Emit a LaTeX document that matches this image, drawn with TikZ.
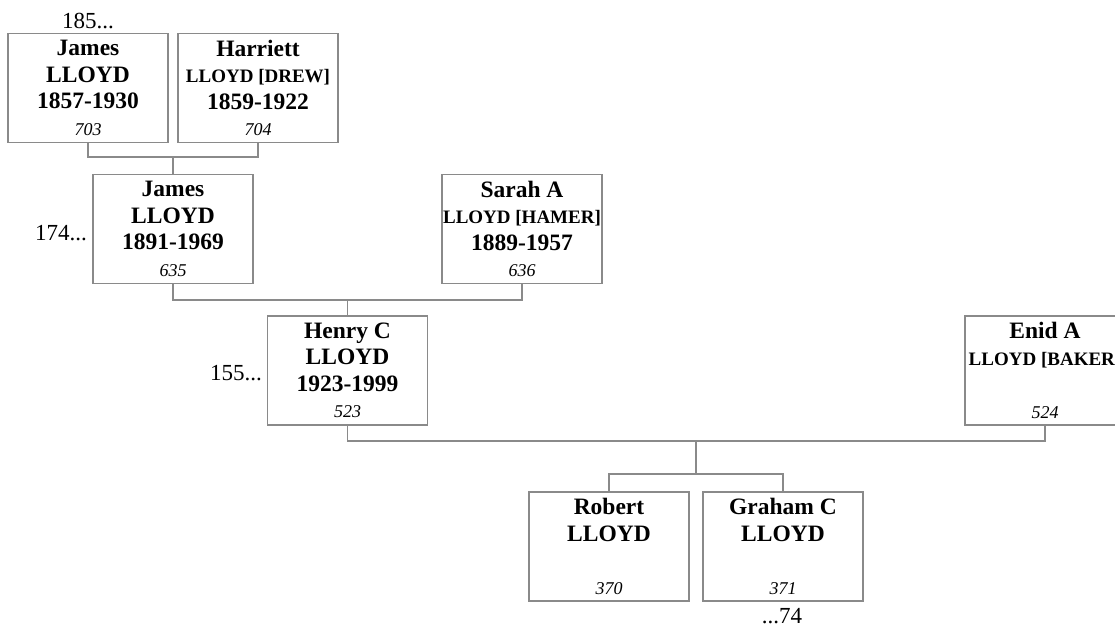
\documentclass[tikz,border=0pt]{standalone}
\usepackage{fontspec}
\setmainfont{Liberation Serif}
\usepackage{xcolor}

\definecolor{boxgray}{RGB}{138,138,138}
\newcommand{\indiv}[4]{%
	#1\\ #2\\ #3\mbox{}\\ {\fontsize{18}{26.5}\selectfont\mdseries\itshape #4}}
\newcommand{\married}[1]{{\fontsize{19}{26.5}\selectfont #1}}

\begin{document}
\begin{tikzpicture}[x=1pt, y=-1pt,
	person/.style={draw=boxgray, line width=1.2pt, fill=white, minimum width=160pt,
		minimum height=109pt, inner sep=0pt, align=center,
		font=\fontsize{23.5}{26.5}\selectfont\bfseries},
	link/.style={draw=boxgray, line width=1.2pt},
	gen/.style={font=\fontsize{23}{26}\selectfont, inner sep=0pt}]
	% Page frame
	\useasboundingbox (0,0) rectangle (1115,627);
	\clip (0,0) rectangle (1115,627);
	% Grandparents
	\node[person] (p703) at (88,88) {\indiv{James}{LLOYD}{1857-1930}{703}};
	\node[person] (p704) at (258,88) {\indiv{Harriett}{\married{LLOYD [DREW]}}{1859-1922}{704}};
	% Parents
	\node[person] (p635) at (173,229) {\indiv{James}{LLOYD}{1891-1969}{635}};
	\node[person] (p636) at (522,229) {\indiv{Sarah A}{\married{LLOYD [HAMER]}}{1889-1957}{636}};
	% Couple
	\node[person] (p523) at (347.5,370.5) {\indiv{Henry C}{LLOYD}{1923-1999}{523}};
	\node[person] (p524) at (1045,370.5) {\indiv{Enid A}{\married{LLOYD [BAKER]}}{}{524}};
	% Children
	\node[person] (p370) at (609,546.5) {\indiv{Robert}{LLOYD}{}{370}};
	\node[person] (p371) at (783,546.5) {\indiv{Graham C}{LLOYD}{}{371}};
	% Generation marks
	\node[gen, anchor=base] (g185) at (88,28) {185...};
	\node[gen, anchor=base east] (g174) at (87,240) {174...};
	\node[gen, anchor=base east] (g155) at (262,380) {155...};
	\node[gen, anchor=base] (g74) at (782,623) {...74};
	% Family lines
	\coordinate (u703) at (173,157);
	\coordinate (u635) at (347.5,300);
	\coordinate (u523) at (696,441);
	\coordinate (s523) at (696,474);
	\draw[link] (p703.south) |- (u703) -| (p704.south);
	\draw[link] (u703) -- (p635.north);
	\draw[link] (p635.south) |- (u635) -| (p636.south);
	\draw[link] (u635) -- (p523.north);
	\draw[link] (p523.south) |- (u523) -| (p524.south);
	\draw[link] (u523) -- (s523);
	\draw[link] (p370.north) |- (s523) -| (p371.north);
\end{tikzpicture}
\end{document}
